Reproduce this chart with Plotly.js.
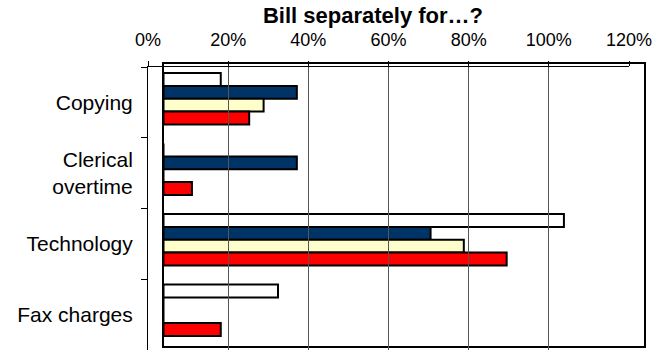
<!DOCTYPE html>
<html>
<head>
<meta charset="utf-8">
<script src="https://cdn.plot.ly/plotly-3.0.1.min.js"></script>
<style>html,body{margin:0;padding:0;background:#fff;}#chart{width:666px;height:352px;}</style>
</head>
<body>
<div id="chart"></div>
<script>
var categories = ['Copying', 'Clerical<br>overtime', 'Technology', 'Fax charges'];
var seriesWhite  = [14.3, 0, 100, 28.6];
var seriesNavy   = [33.3, 33.3, 66.7, 0];
var seriesYellow = [25, 0, 75, 0];
var seriesRed    = [21.4, 7.1, 85.7, 14.3];
var tickValues = [0, 20, 40, 60, 80, 100, 120];
var tickLabels = ['0%', '20%', '40%', '60%', '80%', '100%', '120%'];

var W = 666, H = 352;
function px(x) { return x / W; }
function py(y) { return 1 - y / H; }

function barTrace(vals, color, name) {
  return {
    type: 'bar', orientation: 'h', name: name,
    x: vals, y: categories,
    xaxis: 'x', yaxis: 'y',
    marker: { color: color, line: { color: '#000', width: 2 } },
    hoverinfo: 'x+y', showlegend: false
  };
}

var traces = [
  barTrace(seriesWhite, '#FFFFFF', 'Series 1'),
  barTrace(seriesNavy, '#003366', 'Series 2'),
  barTrace(seriesYellow, '#FFFFCC', 'Series 3'),
  barTrace(seriesRed, '#FF0000', 'Series 4'),
  {
    type: 'scatter', mode: 'markers', x: seriesWhite, y: categories,
    xaxis: 'x2', yaxis: 'y2', marker: { opacity: 0 },
    hoverinfo: 'skip', showlegend: false
  }
];

var font = 'Liberation Sans, Arial, sans-serif';

var layout = {
  width: W, height: H,
  margin: { l: 0, r: 0, t: 0, b: 0 },
  paper_bgcolor: '#fff', plot_bgcolor: 'rgba(0,0,0,0)',
  font: { family: font, color: '#000', size: 18 },
  barmode: 'group', bargap: 0.27, bargroupgap: 0,
  title: {
    text: '<b>Bill separately for…?</b>',
    x: px(373), y: py(15), xanchor: 'center', yanchor: 'middle',
    font: { family: font, size: 22, color: '#000' }
  },
  xaxis: {
    domain: [px(163.5), px(644)], range: [0, 120],
    showticklabels: false, ticks: '', showgrid: false, zeroline: false,
    showline: true, mirror: true, linecolor: '#000', linewidth: 2,
    anchor: 'y'
  },
  yaxis: {
    domain: [py(345.5), py(63.5)], type: 'category',
    categoryorder: 'array', categoryarray: categories,
    range: [3.5, -0.5],
    showticklabels: false, ticks: '', showgrid: false, zeroline: false,
    showline: true, mirror: true, linecolor: '#000', linewidth: 2,
    anchor: 'x'
  },
  xaxis2: {
    domain: [px(148), px(629)], range: [0, 120], side: 'top', anchor: 'y2',
    tickvals: tickValues, ticktext: tickLabels,
    ticks: 'outside', ticklen: 5, tickcolor: '#000', tickwidth: 1,
    ticklabelstandoff: 8,
    tickfont: { family: font, size: 18, color: '#000' },
    showgrid: true, gridcolor: '#555555', gridwidth: 1, zeroline: false,
    showline: true, linecolor: '#000', linewidth: 1
  },
  yaxis2: {
    domain: [py(350), py(67)], type: 'category', anchor: 'x2',
    categoryorder: 'array', categoryarray: categories,
    range: [3.5, -0.5],
    tickson: 'boundaries', ticks: 'outside', ticklen: 6, tickcolor: '#000', tickwidth: 1,
    ticklabelstandoff: 10,
    tickfont: { family: font, size: 21, color: '#000' },
    showgrid: false, zeroline: false,
    showline: true, linecolor: '#000', linewidth: 1
  }
};

Plotly.newPlot('chart', traces, layout, { displayModeBar: false, staticPlot: true });
</script>
</body>
</html>
